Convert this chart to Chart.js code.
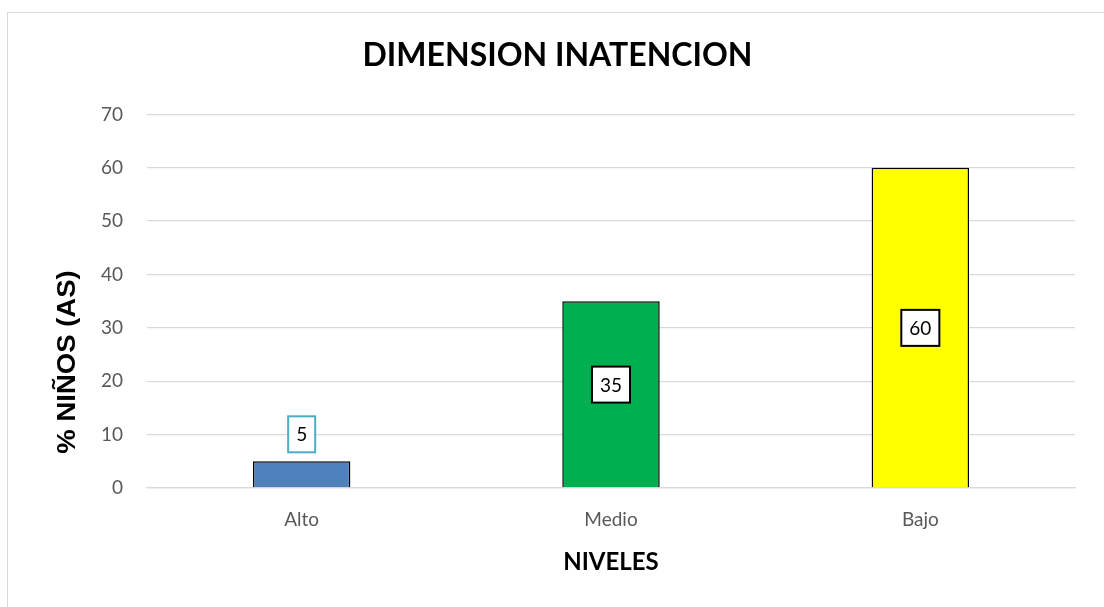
<!DOCTYPE html>
<html>
<head>
<meta charset="utf-8">
<script src="https://cdn.jsdelivr.net/npm/chart.js@4"></script>
<style>
  body { margin: 0; background: #fff; }
  #wrap { position: relative; width: 1104px; height: 607px; overflow: hidden; }
  #frame { position: absolute; left: 7px; top: 12px; right: -4px; bottom: -4px; border: 1.5px solid #d9d9d9; }
  canvas { position: absolute; left: 0; top: 0; }
</style>
</head>
<body>
<div id="wrap">
  <div id="frame"></div>
  <canvas id="chart" width="1104" height="607"></canvas>
</div>
<script>
const categories = ['Alto', 'Medio', 'Bajo'];
const values     = [5, 35, 60];
const barColors  = ['#4f81bd', '#00b050', '#ffff00'];
const labelEdges = ['#4bacc6', '#000000', '#000000'];
const yTitle     = '% NIÑOS (AS)';

const FONT = 'Lato, Calibri, "Open Sans", sans-serif';

// value boxes: small bars get the box above, the rest sit in the middle
const valueBoxes = {
  id: 'valueBoxes',
  afterDatasetsDraw(chart) {
    const ctx  = chart.ctx;
    const meta = chart.getDatasetMeta(0);
    const y0   = chart.scales.y.getPixelForValue(0);
    ctx.save();
    ctx.font = '19px ' + FONT;
    ctx.textAlign = 'center';
    ctx.textBaseline = 'middle';
    meta.data.forEach((bar, i) => {
      const text = String(values[i]);
      const w = ctx.measureText(text).width + 16;
      const h = 36;
      const small = (y0 - bar.y) < 60;
      const cy = small ? bar.y - 27 : (bar.y + y0) / 2 - (i === 1 ? 10 : 0);
      ctx.fillStyle = '#fff';
      ctx.fillRect(bar.x - w / 2, cy - h / 2, w, h);
      ctx.lineWidth = 2;
      ctx.strokeStyle = labelEdges[i];
      ctx.strokeRect(bar.x - w / 2, cy - h / 2, w, h);
      ctx.fillStyle = '#000';
      ctx.fillText(text, bar.x, cy + 1);
    });
    ctx.restore();
  }
};

// y title sits lower than the axis middle in the original
const yAxisTitle = {
  id: 'yAxisTitle',
  afterDraw(chart) {
    const ctx = chart.ctx;
    ctx.save();
    ctx.translate(68, 362);
    ctx.rotate(-Math.PI / 2);
    ctx.font = 'bold 25px "Liberation Sans", Arial, sans-serif';
    ctx.textAlign = 'center';
    ctx.textBaseline = 'middle';
    ctx.fillStyle = '#000';
    ctx.scale(1.1, 1);
    ctx.fillText(yTitle, 0, 0);
    ctx.restore();
  }
};

new Chart(document.getElementById('chart'), {
  type: 'bar',
  data: {
    labels: categories,
    datasets: [{
      data: values,
      backgroundColor: barColors,
      borderColor: '#000',
      borderWidth: 1.5,
      categoryPercentage: 1,
      barPercentage: 0.315,
    }],
  },
  options: {
    responsive: false,
    animation: false,
    layout: { padding: { left: 40, right: 29, top: 0, bottom: 26 } },
    plugins: {
      legend: { display: false },
      tooltip: { enabled: false },
      title: {
        display: true,
        text: 'DIMENSION INATENCION',
        color: '#000',
        font: { family: FONT, size: 32, weight: 'bold' },
        padding: { top: 36, bottom: 40 },
      },
    },
    scales: {
      y: {
        min: 0,
        max: 70,
        ticks: { stepSize: 10, color: '#595959', font: { family: FONT, size: 19 }, padding: 24 },
        grid: { color: '#d9d9d9', lineWidth: 1.3, drawTicks: false },
        border: { display: false },
        afterFit: s => { s.width = 107; },
      },
      x: {
        ticks: { color: '#595959', font: { family: FONT, size: 19 }, padding: 20 },
        grid: { display: false, drawTicks: false },
        border: { display: true, color: '#d9d9d9', width: 1.3 },
        title: {
          display: true,
          text: 'NIVELES',
          color: '#000',
          font: { family: FONT, size: 24, weight: 'bold' },
          padding: { top: 16 },
        },
        afterFit: s => { s.height = 93; },
      },
    },
  },
  plugins: [valueBoxes, yAxisTitle],
});
</script>
</body>
</html>
